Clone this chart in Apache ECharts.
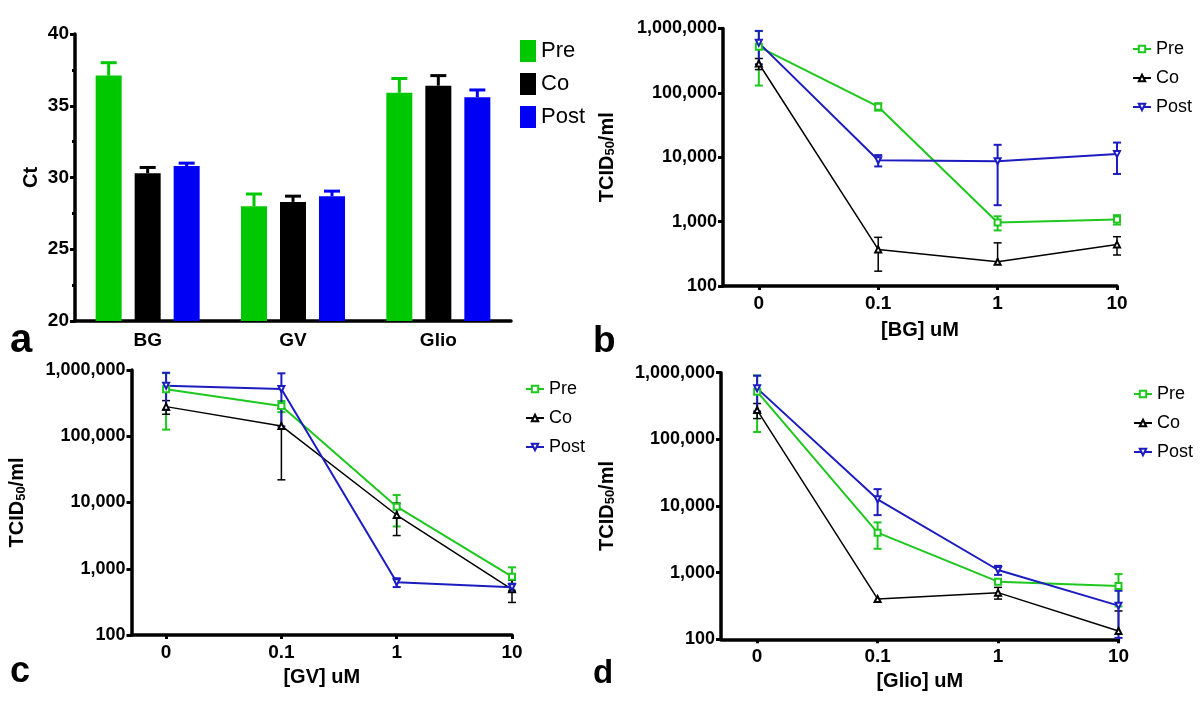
<!DOCTYPE html>
<html><head><meta charset="utf-8">
<script src="https://cdn.jsdelivr.net/npm/echarts@6/dist/echarts.min.js"></script>
<style>html,body{margin:0;padding:0;background:#fff}#c{width:1200px;height:704px}</style>
</head><body><div id="c"></div>
<script>
// ---------- data ----------
const seriesNames = ['Pre', 'Co', 'Post'];
const barCategories = ['BG', 'GV', 'Glio'];
const ctPre = [37.1, 28.0, 35.9];
const ctPreErr = [0.9, 0.85, 1.0];
const ctCo = [30.3, 28.3, 36.4];
const ctCoErr = [0.4, 0.4, 0.7];
const ctPost = [30.8, 28.7, 35.6];
const ctPostErr = [0.2, 0.35, 0.5];
const ctTicks = [20, 25, 30, 35, 40];

const doseLabels = ['0', '0.1', '1', '10'];
const titerTicks = [100, 1000, 10000, 100000, 1000000];

const bgPre = [520000, 61000, 970, 1080];
const bgPreErr = [390000, 8000, 240, 180];
const bgCo = [286000, 370, 238, 443];
const bgCoErr = [56000, 200, 230, 140];
const bgPost = [598000, 9000, 8700, 11200];
const bgPostErr = [320000, 1800, 6900, 5700];

const gvPre = [511000, 286000, 8650, 760];
const gvPreErr = [385000, 55000, 4300, 290];
const gvCo = [280000, 143000, 6470, 490];
const gvCoErr = [65000, 121000, 3300, 180];
const gvPost = [580000, 516000, 624, 525];
const gvPostErr = [330000, 375000, 95, 70];

const glPre = [519000, 3980, 733, 631];
const glPreErr = [390000, 1700, 60, 320];
const glCo = [275000, 403, 501, 133];
const glCoErr = [70000, 0, 100, 133];
const glPost = [582000, 12600, 1096, 320];
const glPostErr = [320000, 5300, 170, 215];

// ---------- styles ----------
const FONT = '"Liberation Sans", Arial, Helvetica, sans-serif';
const barColors = ['#00c800', '#000000', '#0000f5'];
const lineColors = ['#1ec81e', '#000000', '#1c1cc0'];
const lineWidths = [2, 1.5, 2];
const symbols = ['emptyRect', 'emptyTriangle', 'emptyTriangle'];
const symbolRot = [0, 0, 180];

const chart = echarts.init(document.getElementById('c'));

function fmtComma(v) {
  return String(Math.round(v)).replace(/\B(?=(\d{3})+(?!\d))/g, ',');
}

const axisLineStyle = { show: true, onZero: false, lineStyle: { color: '#000', width: 3.5 } };
const tickStyle = { show: true, length: 5, lineStyle: { color: '#000', width: 3 } };

const grids = [
  { left: 75, top: 34, width: 436, height: 287 },
  { left: 723, top: 28.5, width: 394, height: 257.5 },
  { left: 131.5, top: 370, width: 380.5, height: 265 },
  { left: 721, top: 372.7, width: 397.5, height: 266.6 }
];

const titerName = '{m|TCID}{s|50}{m|/ml}';
const titerRich = {
  m: { fontSize: 20, fontWeight: 'bold', fontFamily: FONT, color: '#000', lineHeight: 24, verticalAlign: 'bottom' },
  s: { fontSize: 13, fontWeight: 'bold', fontFamily: FONT, color: '#000', lineHeight: 12, verticalAlign: 'bottom' }
};

const xAxes = [
  {
    gridIndex: 0, type: 'category', data: barCategories,
    axisLine: axisLineStyle, axisTick: { show: false },
    axisLabel: { margin: 10, fontSize: 19, fontWeight: 'bold', fontFamily: FONT, color: '#000' }
  }
];
const yAxes = [
  {
    gridIndex: 0, type: 'value', min: ctTicks[0], max: ctTicks[ctTicks.length - 1], interval: 5,
    axisLine: axisLineStyle, axisTick: tickStyle,
    minorTick: { show: true, splitNumber: 2, length: 3, lineStyle: { color: '#000', width: 3 } },
    splitLine: { show: false },
    axisLabel: { margin: 6, fontSize: 19, fontWeight: 'bold', fontFamily: FONT, color: '#000' },
    name: 'Ct', nameLocation: 'middle', nameGap: 34, nameRotate: 90,
    nameTextStyle: { fontSize: 20, fontWeight: 'bold', fontFamily: FONT, color: '#000' }
  }
];
const xNames = ['[BG] uM', '[GV] uM', '[Glio] uM'];
const xNameGaps = [34, 32, 32];
const yNameGaps = [106, 104, 104];
for (let k = 0; k < 3; k++) {
  xAxes.push({
    gridIndex: k + 1, type: 'value', min: -0.3, max: doseLabels.length - 1,
    axisLine: axisLineStyle,
    axisTick: Object.assign({}, tickStyle, { length: 4, customValues: doseLabels.map((d, i) => i) }),
    splitLine: { show: false },
    axisLabel: {
      customValues: doseLabels.map((d, i) => i), margin: 8,
      formatter: v => doseLabels[Math.round(v)],
      fontSize: 19, fontWeight: 'bold', fontFamily: FONT, color: '#000'
    },
    name: xNames[k], nameLocation: 'middle', nameGap: xNameGaps[k],
    nameTextStyle: { fontSize: 20, fontWeight: 'bold', fontFamily: FONT, color: '#000' }
  });
  yAxes.push({
    gridIndex: k + 1, type: 'log', logBase: 10,
    min: titerTicks[0], max: titerTicks[titerTicks.length - 1],
    axisLine: axisLineStyle, axisTick: Object.assign({}, tickStyle, { customValues: titerTicks }),
    splitLine: { show: false }, minorTick: { show: false },
    axisLabel: {
      customValues: titerTicks, margin: 6, formatter: v => fmtComma(v),
      fontSize: 18, fontWeight: 'bold', fontFamily: FONT, color: '#000'
    },
    name: titerName, nameLocation: 'middle', nameGap: yNameGaps[k], nameRotate: 90,
    nameTextStyle: { rich: titerRich }
  });
}

const series = [];
// ---- panel a bars ----
const ctMeans = [ctPre, ctCo, ctPost];
const ctErrs = [ctPreErr, ctCoErr, ctPostErr];
const BAR_W = 26, BAR_GAP = 13;
for (let i = 0; i < 3; i++) {
  series.push({
    type: 'bar', name: seriesNames[i], xAxisIndex: 0, yAxisIndex: 0,
    data: ctMeans[i], barWidth: BAR_W, barGap: (BAR_GAP / BAR_W * 100) + '%',
    itemStyle: { color: barColors[i] }, z: 2
  });
}
for (let i = 0; i < 3; i++) {
  const off = (i - 1) * (BAR_W + BAR_GAP);
  const col = barColors[i];
  series.push({
    type: 'custom', xAxisIndex: 0, yAxisIndex: 0, z: 3,
    data: ctMeans[i].map((m, c) => [c, m, ctErrs[i][c]]),
    renderItem: (params, api) => {
      const c = api.value(0), m = api.value(1), e = api.value(2);
      const pb = api.coord([c, m]);
      const pt = api.coord([c, m + e]);
      const x = pb[0] + off;
      return {
        type: 'group', children: [
          { type: 'line', shape: { x1: x, y1: pb[1], x2: x, y2: pt[1] }, style: { stroke: col, lineWidth: 3 } },
          { type: 'line', shape: { x1: x - 8, y1: pt[1], x2: x + 8, y2: pt[1] }, style: { stroke: col, lineWidth: 3 } }
        ]
      };
    }
  });
}

// ---- panels b, c, d ----
const panels = [
  { means: [bgPre, bgCo, bgPost], errs: [bgPreErr, bgCoErr, bgPostErr] },
  { means: [gvPre, gvCo, gvPost], errs: [gvPreErr, gvCoErr, gvPostErr] },
  { means: [glPre, glCo, glPost], errs: [glPreErr, glCoErr, glPostErr] }
];
const lineNames = seriesNames.map(n => n + ' ');
panels.forEach((p, k) => {
  for (let i = 0; i < 3; i++) {
    const col = lineColors[i], lw = lineWidths[i];
    series.push({
      type: 'custom', xAxisIndex: k + 1, yAxisIndex: k + 1, z: 3,
      data: p.means[i].map((m, x) => [x, m, p.errs[i][x]]),
      renderItem: (params, api) => {
        const x = api.value(0), m = api.value(1), e = api.value(2);
        if (!e) return null;
        const pm = api.coord([x, m]);
        const ph = api.coord([x, m + e]);
        const ch = [
          { type: 'line', shape: { x1: pm[0], y1: pm[1], x2: pm[0], y2: ph[1] }, style: { stroke: col, lineWidth: lw } },
          { type: 'line', shape: { x1: pm[0] - 4, y1: ph[1], x2: pm[0] + 4, y2: ph[1] }, style: { stroke: col, lineWidth: lw } }
        ];
        const lo = m - e;
        if (lo >= titerTicks[0]) {
          const pl = api.coord([x, lo]);
          ch.push({ type: 'line', shape: { x1: pm[0], y1: pm[1], x2: pm[0], y2: pl[1] }, style: { stroke: col, lineWidth: lw } });
          ch.push({ type: 'line', shape: { x1: pm[0] - 4, y1: pl[1], x2: pm[0] + 4, y2: pl[1] }, style: { stroke: col, lineWidth: lw } });
        }
        return { type: 'group', children: ch };
      }
    });
    series.push({
      type: 'line', name: lineNames[i], xAxisIndex: k + 1, yAxisIndex: k + 1, z: 4,
      data: p.means[i].map((m, x) => [x, m]),
      symbol: symbols[i], symbolRotate: symbolRot[i], symbolSize: 6,
      lineStyle: { color: col, width: lw }, itemStyle: { color: col, borderWidth: 1.5 },
      animation: false
    });
  }
});

const legendText = { fontSize: 18, fontFamily: FONT, color: '#000', lineHeight: 20 };
const lineLegend = (left, top) => ({
  left, top, orient: 'vertical', data: lineNames, selectedMode: false,
  itemWidth: 18, itemHeight: 8, itemGap: 9, formatter: n => n.trim(), textStyle: legendText
});

chart.setOption({
  animation: false,
  backgroundColor: '#fff',
  grid: grids,
  xAxis: xAxes,
  yAxis: yAxes,
  legend: [
    {
      left: 515, top: 35, orient: 'vertical', data: seriesNames, selectedMode: false, icon: 'rect',
      itemWidth: 16, itemHeight: 22, itemGap: 11,
      textStyle: { fontSize: 22, fontFamily: FONT, color: '#000', lineHeight: 22 }
    },
    lineLegend(1127, 34),
    lineLegend(520, 374),
    lineLegend(1128, 379)
  ],
  series,
  graphic: [
    { type: 'text', left: 10, top: 321, style: { text: 'a', font: 'bold 40px ' + FONT, fill: '#000' } },
    { type: 'text', left: 593, top: 323, style: { text: 'b', font: 'bold 37px ' + FONT, fill: '#000' } },
    { type: 'text', left: 10, top: 654, style: { text: 'c', font: 'bold 36px ' + FONT, fill: '#000' } },
    { type: 'text', left: 593, top: 657, style: { text: 'd', font: 'bold 33px ' + FONT, fill: '#000' } }
  ]
});
</script>
</body></html>
